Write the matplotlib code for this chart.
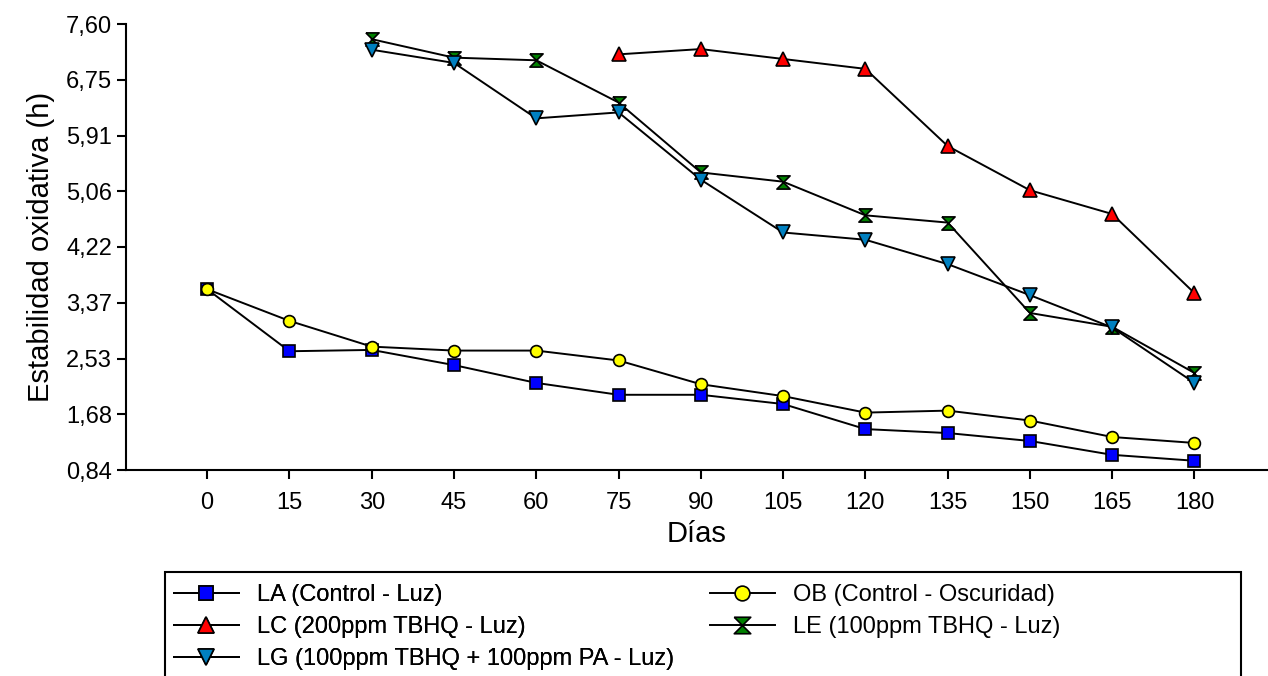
import matplotlib
matplotlib.use("Agg")
import matplotlib.pyplot as plt
from matplotlib.patches import Rectangle

plt.rcParams['font.family'] = ['Liberation Sans', 'DejaVu Sans']

# days of storage
dias = [0, 15, 30, 45, 60, 75, 90, 105, 120, 135, 150, 165, 180]
dias_lc = [75, 90, 105, 120, 135, 150, 165, 180]
dias_le = [30, 45, 60, 75, 90, 105, 120, 135, 150, 165, 180]

# oxidative stability (h)
la = [3.58, 2.64, 2.66, 2.43, 2.16, 1.98, 1.98, 1.84, 1.46, 1.40, 1.28, 1.07, 0.98]
ob = [3.58, 3.10, 2.71, 2.65, 2.65, 2.50, 2.14, 1.96, 1.71, 1.74, 1.59, 1.34, 1.25]
lc = [7.14, 7.22, 7.07, 6.92, 5.75, 5.08, 4.72, 3.52]
le = [7.37, 7.09, 7.05, 6.41, 5.35, 5.21, 4.70, 4.59, 3.22, 3.01, 2.31]
lg = [7.21, 7.01, 6.17, 6.26, 5.24, 4.44, 4.33, 3.96, 3.49, 3.00, 2.16]

ytick_vals = [0.84, 1.685, 2.53, 3.375, 4.22, 5.065, 5.91, 6.755, 7.60]
ytick_labels = ['0,84', '1,68', '2,53', '3,37', '4,22', '5,06', '5,91', '6,75', '7,60']

# hourglass marker
hourglass = [(-1, 1), (1, 1), (0, 0), (1, -1), (-1, -1), (0, 0), (-1, 1)]

W, H = 1268, 676
fig = plt.figure(figsize=(W / 100, H / 100), dpi=100)
ax = fig.add_axes([126 / W, (H - 470) / H, (W - 126) / W, 446 / H])

common = dict(color='black', lw=1.4, markeredgecolor='black', markeredgewidth=1.2, clip_on=False)
l1, = ax.plot(dias, la, marker='s', markersize=8, markerfacecolor='#0000FF',
              label='LA (Control - Luz)', **common)
l2, = ax.plot(dias, ob, marker='o', markersize=8.5, markerfacecolor='#FFFF00',
              label='OB (Control - Oscuridad)', **common)
l3, = ax.plot(dias_lc, lc, marker='^', markersize=9.5, markerfacecolor='#FF0000',
              label='LC (200ppm TBHQ - Luz)', **common)
l4, = ax.plot(dias_le, le, marker=hourglass, markersize=9.5, markerfacecolor='#008000',
              label='LE (100ppm TBHQ - Luz)', **common)
l5, = ax.plot(dias_le, lg, marker='v', markersize=9.5, markerfacecolor='#0080C0',
              label='LG (100ppm TBHQ + 100ppm PA - Luz)', **common)

ax.set_xlim(-14.8, 193.4)
ax.set_ylim(0.84, 7.60)
ax.set_xticks(dias)
ax.set_xticklabels([str(d) for d in dias])
ax.set_yticks(ytick_vals)
ax.set_yticklabels(ytick_labels)

for s in ['top', 'right']:
    ax.spines[s].set_visible(False)
for s in ['left', 'bottom']:
    ax.spines[s].set_linewidth(1.5)
ax.tick_params(axis='both', direction='out', length=6.5, width=1.5, labelsize=17)
ax.tick_params(axis='x', pad=9)

ax.set_xlabel('Días', fontsize=21, labelpad=5)
ax.set_ylabel('Estabilidad oxidativa (h)', fontsize=21, labelpad=8)

# legend in two columns inside a plain box
leg_kw = dict(frameon=False, fontsize=17, handlelength=2.75, handletextpad=0.75,
              labelspacing=0.42, borderpad=0, borderaxespad=0, loc='upper left',
              markerscale=1.25)
leg1 = fig.legend(handles=[l1, l3, l5], bbox_to_anchor=(174 / W, (H - 584) / H), **leg_kw)
leg2 = fig.legend(handles=[l2, l4], bbox_to_anchor=(710 / W, (H - 584) / H), **leg_kw)
fig.add_artist(leg1)

fig.patches.append(Rectangle((164.5 / W, -0.05), (1241 - 164.5) / W, (H - 572) / H + 0.05,
                             transform=fig.transFigure, fill=False, edgecolor='black',
                             linewidth=1.5))

fig.savefig('out.png', dpi=100)
